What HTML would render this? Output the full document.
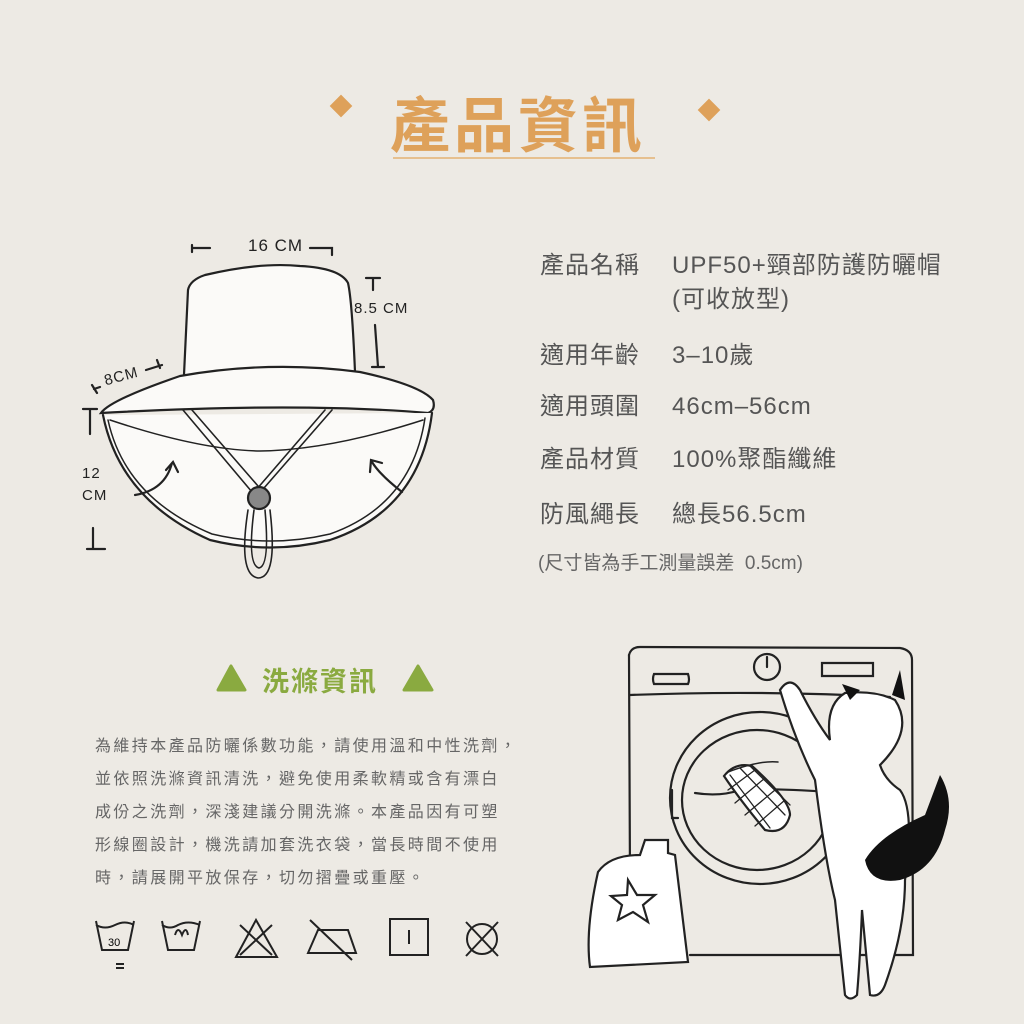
<!DOCTYPE html>
<html><head><meta charset="utf-8"><style>
body{margin:0;width:1024px;height:1024px;background:#edeae4;overflow:hidden;position:relative;font-family:"Liberation Sans","Noto Sans CJK TC",sans-serif}
.t{position:absolute;white-space:nowrap}
.spec{position:absolute;left:540px;font-size:24px;color:#555;letter-spacing:1px}
.spec b{font-weight:normal;display:inline-block;width:132px}
.care{position:absolute;left:95px;top:730px;font-size:16px;line-height:33px;color:#666;letter-spacing:2.4px}
.hw{position:absolute;white-space:nowrap;font-family:"Liberation Sans",sans-serif;color:#222;font-size:15px;letter-spacing:1px}
</style></head><body>
<div class="t" style="left:390px;top:78px;font-size:60px;color:#dea15a;font-weight:bold;letter-spacing:4px">產品資訊</div>
<div class="t" style="left:333px;top:98px;width:16px;height:16px;background:#dea15a;transform:rotate(45deg)"></div>
<div class="t" style="left:701px;top:102px;width:16px;height:16px;background:#dea15a;transform:rotate(45deg)"></div>
<div class="t" style="left:393px;top:157px;width:262px;height:2px;background:#e6c08f"></div>

<div class="spec" style="top:245px"><b>產品名稱</b>UPF50+頸部防護防曬帽</div>
<div class="spec" style="top:279px"><b></b>(可收放型)</div>
<div class="spec" style="top:335px"><b>適用年齡</b>3–10歲</div>
<div class="spec" style="top:386px"><b>適用頭圍</b>46cm–56cm</div>
<div class="spec" style="top:439px"><b>產品材質</b>100%聚酯纖維</div>
<div class="spec" style="top:494px"><b>防風繩長</b>總長56.5cm</div>
<div class="t" style="left:538px;top:548px;font-size:19px;color:#666">(尺寸皆為手工測量誤差&nbsp;&nbsp;0.5cm)</div>

<div class="hw" style="left:248px;top:236px;font-size:17px">16 CM</div>
<div class="hw" style="left:354px;top:300px">8.5 CM</div>
<div class="hw" style="left:104px;top:368px;transform:rotate(-15deg)">8CM</div>
<div class="hw" style="left:82px;top:465px">12</div>
<div class="hw" style="left:82px;top:487px">CM</div>

<svg class="t" style="left:0;top:0" width="1024" height="1024">
<g fill="none" stroke="#222" stroke-width="2.2" stroke-linecap="round">
<path d="M183,396 L188,290 Q190,280 205,275 Q260,262 300,266 Q340,268 348,283 Q352,300 355,372" fill="#fbfaf8"/>
<path d="M101,413 Q110,400 180,376 Q270,360 360,372 Q420,385 433,400 Q436,410 428,413 Q300,402 101,413Z" fill="#fbfaf8"/>
<path d="M103,415 Q120,500 210,540 Q270,555 330,540 Q420,510 432,413" fill="#fbfaf8"/>
<path d="M108,420 Q125,498 212,534 Q270,548 330,534 Q412,505 425,418" stroke-width="1.5"/>
<path d="M110,420 Q200,450 260,451 Q330,450 423,420" stroke-width="1.5"/>
<path d="M183,410 L252,492 M192,410 L258,486 M332,410 L264,488 M325,410 L256,490" stroke-width="1.6"/>
<path d="M248,510 Q238,575 258,578 Q278,578 270,510 M254,510 Q247,565 259,568 Q270,566 265,510" stroke-width="1.6"/>
<circle cx="259" cy="498" r="11" fill="#888"/>
<path d="M135,495 Q165,490 172,463 M166,470 L173,462 L178,472"/>
<path d="M402,492 Q380,475 372,462 M370,472 L371,460 L382,463"/>
<path d="M192,245 L192,252 M192,248 L210,248 M310,248 L332,248 L332,255"/>
<path d="M366,278 L380,278 M373,278 L373,290 M375,325 L378,367 M372,367 L384,367"/>
<path d="M92,385 L97,393 M94,389 L100,387 M146,370 L162,365 M157,360 L160,368"/>
<path d="M83,409 L97,409 M90,409 L90,434 M87,549 L105,549 M93,528 L93,549"/>
<!-- machine -->
<path d="M629,655 Q631,647 640,647 L900,648 Q912,650 912,660 L913,955 L690,955"/>
<path d="M629,655 L630,880"/>
<path d="M630,695 Q760,690 890,697"/>
<path d="M654,674 L688,674 Q690,680 688,684 L654,684 Q652,679 654,674Z"/>
<path d="M822,663 L873,663 L873,676 L822,676Z"/>
<circle cx="767" cy="667" r="13"/><path d="M767,657 L767,667"/>
<ellipse cx="760" cy="798" rx="90" ry="86"/>
<ellipse cx="757" cy="800" rx="75" ry="70"/>
<path d="M672,790 L672,818 L678,818 M695,793 Q720,797 740,790 Q770,788 830,792"/>
<path d="M724,776 Q735,762 752,766 Q790,800 790,815 Q785,835 765,830 Q740,800 724,776Z" fill="#fff"/>
<path d="M730,775 L770,828 M740,768 L785,815 M750,766 L790,805 M728,790 L755,770 M735,803 L765,778 M745,815 L775,790 M755,826 L785,800" stroke-width="1.3"/>
<path d="M728,772 Q760,760 778,762" stroke-width="1.5"/>
<!-- bottle -->
<path d="M645,840 L668,840 L668,853 L675,855 L688,962 L590,967 Q585,930 598,872 Q610,855 640,855Z" fill="#fff"/>
<path d="M628,880 L637,895 L655,895 L643,905 L648,922 L633,912 L618,920 L622,905 L611,896 L627,895Z"/>
<!-- cat -->
<path d="M780,690 Q790,675 800,690 Q815,720 830,740 Q825,705 845,693 Q875,690 895,700 Q915,730 880,765 Q885,780 900,790 Q915,810 905,880 Q905,930 885,985 Q880,998 870,995 L862,910 Q860,960 857,995 Q850,1002 845,995 L835,900 Q825,860 815,780 Q795,740 780,690Z" fill="#fff"/>
</g>
<path d="M842,684 L850,700 L860,690Z M900,670 L905,700 L892,695Z" fill="#111"/>
<path d="M940,775 Q955,800 945,830 Q935,870 900,880 Q870,885 865,860 Q880,835 925,815Z" fill="#111"/>
<path d="M218,690 L231,666 L245,690Z M404,690 L418,666 L432,690Z" fill="#8aaa40" stroke="#8aaa40" stroke-width="3" stroke-linejoin="round"/>
<g fill="none" stroke="#222" stroke-width="2">
<path d="M96,921 L102,950 L128,950 L134,921 M96,925 Q105,930 115,925 Q125,920 134,925 M116,964 L124,964 M116,968 L124,968"/>
<path d="M162,921 L168,950 L194,950 L200,921 M162,925 Q170,930 178,925 Q188,920 200,925 M175,935 Q178,925 182,935 Q186,925 188,935"/>
<path d="M236,957 L256,920 L277,957Z M240,925 L272,955 M272,925 L240,955"/>
<path d="M308,953 L318,930 L348,930 L356,953Z M310,920 L352,960"/>
<rect x="390" y="919" width="38" height="36"/><path d="M409,930 L409,944"/>
<circle cx="482" cy="939" r="15"/><path d="M466,922 L498,956 M498,922 L466,956"/>
</g>
<text x="108" y="946" font-size="11" font-family="Liberation Sans">30</text>
</svg>
<div class="t" style="left:262px;top:660px;font-size:27px;color:#8aaa40;font-weight:bold;letter-spacing:2px">洗滌資訊</div>
<div class="care">為維持本產品防曬係數功能，請使用溫和中性洗劑，<br>並依照洗滌資訊清洗，避免使用柔軟精或含有漂白<br>成份之洗劑，深淺建議分開洗滌。本產品因有可塑<br>形線圈設計，機洗請加套洗衣袋，當長時間不使用<br>時，請展開平放保存，切勿摺疊或重壓。</div>
</body></html>
